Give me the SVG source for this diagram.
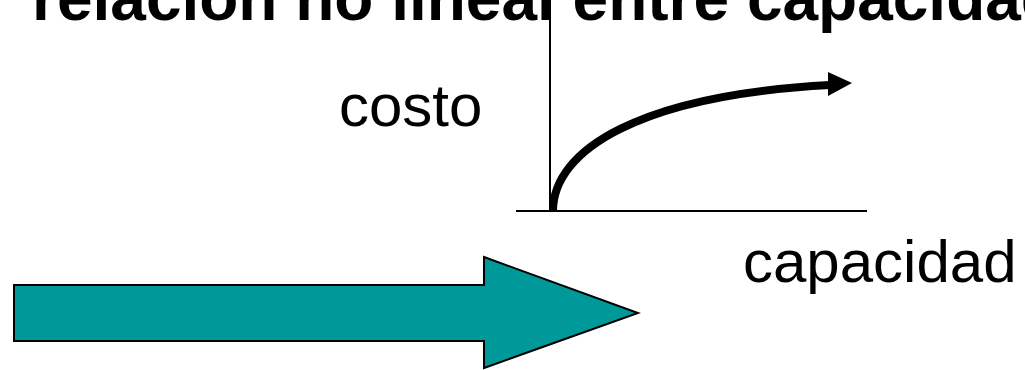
<svg xmlns="http://www.w3.org/2000/svg" width="1025" height="370" viewBox="0 0 1025 370">
<style>
.title{font-family:"Liberation Sans",Arial,sans-serif;font-weight:bold;font-size:64px;fill:#000}
.lbl{font-family:"Liberation Sans",Arial,sans-serif;font-size:60px;fill:#000}
.axis{stroke:#000;stroke-width:2;fill:none}
</style>
<rect width="1025" height="370" fill="#fff"/>
<text class="title" x="32" y="20">relación no lineal entre capacidad</text>
<g id="chart">
<line class="axis" x1="550" y1="0" x2="550" y2="211"/>
<line class="axis" x1="516" y1="211" x2="867" y2="211"/>
<path d="M553,211 C553,150 640,95 830,85" fill="none" stroke="#000" stroke-width="8"/>
<polygon points="828,72 852,83 828,96" fill="#000"/>
</g>
<text id="costo" class="lbl" x="339" y="126">costo</text>
<text id="capacidad" class="lbl" x="743" y="282">capacidad</text>
<g id="big-arrow">
<polygon points="14,285 484,285 484,257 638,313 484,368 484,341 14,341" fill="#009999" stroke="#000" stroke-width="2"/>
</g>
</svg>
